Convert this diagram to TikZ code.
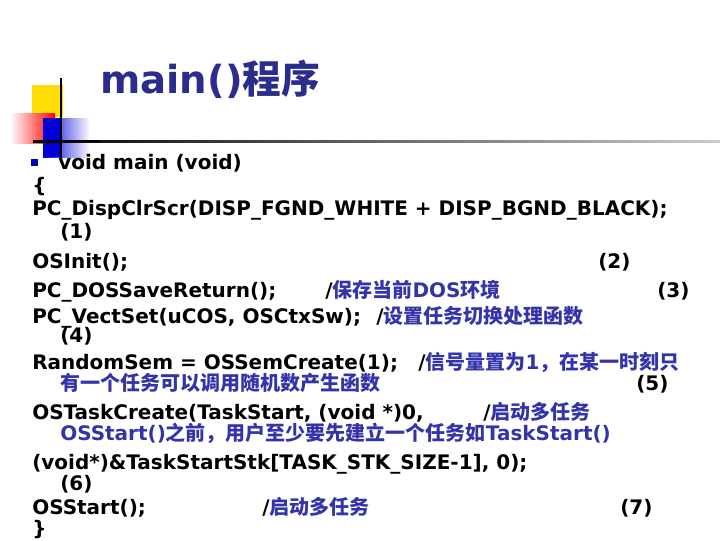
\documentclass[tikz,border=0pt]{standalone}
\usepackage{fontspec}
\setmainfont{DejaVu Sans}
\newfontfamily\cjk{Noto Sans CJK SC}
\begin{document}
\begin{tikzpicture}[x=0.75pt,y=-0.75pt,
  code/.style={anchor=base west,inner sep=0pt,font=\fontsize{15}{16}\selectfont\bfseries},
  cmt/.style={text={rgb,255:red,51;green,51;blue,170}},
  ttl/.style={anchor=base west,inner sep=0pt,font=\fontsize{29}{32}\selectfont\bfseries,text={rgb,255:red,43;green,45;blue,140}}]
\useasboundingbox (0,0) rectangle (720,540);
\fill[yellow!80!orange] (32,85) rectangle (63,117);
\shade[left color=white,right color=red] (10,113) rectangle (55,143);
\shade[left color=blue!85!black,right color=white] (43,118) rectangle (90,157);
\fill[blue!85!black] (43,118) rectangle (62,157);
\draw[line width=1pt] (61,78) -- (61,158);
\shade[left color=black,right color=gray!40] (33,140) rectangle (720,142);
\fill (33,140) rectangle (100,142);
\node[ttl] (t) at (100,93) {main()\cjk 程序};
\fill[blue!70!black] (31,159) rectangle (38,166);
\node[code] (l1) at (58,169) {void main (void)};
\node[code] (l2) at (32,192) {\{};
\node[code] (l3) at (32,215) {PC\_DispClrScr(DISP\_FGND\_WHITE + DISP\_BGND\_BLACK);};
\node[code] (l4) at (60,238) {(1)};
\node[code] (l5) at (32,268) {OSInit();};
\node[code] (l5b) at (598,268) {(2)};
\node[code] (l6) at (32,297) {PC\_DOSSaveReturn();};
\node[code] (l6c) at (325,297) {/\textcolor[RGB]{51,51,170}{{\cjk 保存当前}DOS{\cjk 环境}}};
\node[code] (l6b) at (657,297) {(3)};
\node[code] (l7) at (32,323) {PC\_VectSet(uCOS, OSCtxSw);};
\node[code] (l7c) at (376,323) {/\textcolor[RGB]{51,51,170}{\cjk 设置任务切换处理函数}};
\node[code] (l8) at (60,342) {(4)};
\node[code] (l9) at (32,369) {RandomSem = OSSemCreate(1);};
\node[code] (l9c) at (418,369) {/\textcolor[RGB]{51,51,170}{{\cjk 信号量置为}1{\cjk ，在某一时刻只}}};
\node[code,cmt] (l10) at (60,390) {\cjk 有一个任务可以调用随机数产生函数};
\node[code] (l10b) at (636,390) {(5)};
\node[code] (l11) at (32,419) {OSTaskCreate(TaskStart, (void *)0,};
\node[code] (l11c) at (483,419) {/\textcolor[RGB]{51,51,170}{\cjk 启动多任务}};
\node[code,cmt] (l12) at (60,440) {OSStart(){\cjk 之前，用户至少要先建立一个任务如}TaskStart()};
\node[code] (l13) at (32,469) {(void*)\&TaskStartStk[TASK\_STK\_SIZE-1], 0);};
\node[code] (l14) at (60,490) {(6)};
\node[code] (l15) at (32,514) {OSStart();};
\node[code] (l15c) at (262,514) {/\textcolor[RGB]{51,51,170}{\cjk 启动多任务}};
\node[code] (l15b) at (620,514) {(7)};
\node[code] (l16) at (32,535) {\}};
\end{tikzpicture}
\end{document}
